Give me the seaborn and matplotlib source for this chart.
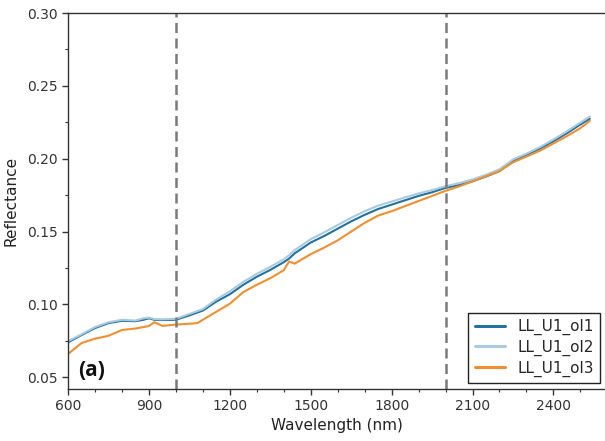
import numpy as np
import pandas as pd
import matplotlib
matplotlib.use("Agg")
import matplotlib.pyplot as plt
from matplotlib.ticker import MultipleLocator
import seaborn as sns

wavelength = [600, 650, 700, 750, 800, 850, 880, 900, 920, 950, 1000, 1050, 1080, 1100,
              1150, 1200, 1250, 1300, 1350, 1400, 1420, 1440, 1500, 1550, 1600, 1650,
              1700, 1750, 1800, 1850, 1900, 1950, 2000, 2050, 2100, 2150, 2200, 2250,
              2300, 2350, 2400, 2450, 2500, 2535]

ol1 = [0.0740, 0.0790, 0.0838, 0.0872, 0.0888, 0.0885, 0.0895, 0.0905, 0.0895, 0.0893,
       0.0895, 0.0925, 0.0945, 0.0958, 0.1020, 0.1070, 0.1135, 0.1190, 0.1237, 0.1290,
       0.1315, 0.1350, 0.1425, 0.1470, 0.1520, 0.1570, 0.1615, 0.1655, 0.1685, 0.1715,
       0.1745, 0.1770, 0.1800, 0.1820, 0.1845, 0.1878, 0.1915, 0.1985, 0.2025, 0.2070,
       0.2120, 0.2175, 0.2235, 0.2275]

ol2 = [0.0748, 0.0795, 0.0845, 0.0878, 0.0895, 0.0890, 0.0905, 0.0910, 0.0900, 0.0898,
       0.0902, 0.0935, 0.0955, 0.0968, 0.1035, 0.1090, 0.1155, 0.1210, 0.1258, 0.1310,
       0.1338, 0.1372, 0.1448, 0.1495, 0.1545, 0.1595, 0.1640, 0.1678, 0.1706, 0.1735,
       0.1762, 0.1785, 0.1812, 0.1832, 0.1858, 0.1890, 0.1928, 0.1995, 0.2035, 0.2080,
       0.2132, 0.2188, 0.2248, 0.2290]

ol3 = [0.0660, 0.0735, 0.0765, 0.0785, 0.0825, 0.0835, 0.0845, 0.0852, 0.0878, 0.0853,
       0.0862, 0.0868, 0.0872, 0.0895, 0.0950, 0.1005, 0.1085, 0.1135, 0.1180, 0.1235,
       0.1295, 0.1280, 0.1345, 0.1390, 0.1440, 0.1500, 0.1560, 0.1610, 0.1640, 0.1675,
       0.1710, 0.1745, 0.1780, 0.1810, 0.1845, 0.1880, 0.1915, 0.1975, 0.2015, 0.2055,
       0.2105, 0.2155, 0.2210, 0.2260]

series_names = ["LL_U1_ol1", "LL_U1_ol2", "LL_U1_ol3"]
colors = ["#23719f", "#a9cbe0", "#ef8f30"]
vlines = [1000, 2000]
xticks = [600, 900, 1200, 1500, 1800, 2100, 2400]
yticks = [0.05, 0.10, 0.15, 0.20, 0.25, 0.30]

df = pd.DataFrame({
    "Wavelength": wavelength * 3,
    "Reflectance": ol1 + ol2 + ol3,
    "sample": sum([[n] * len(wavelength) for n in series_names], []),
})

sns.set_theme(style="ticks")
plt.rcParams["font.family"] = ["DejaVu Sans"]

fig = plt.figure(figsize=(6.05, 4.41), dpi=100)
ax = fig.add_axes([68 / 605, 52 / 441, 538 / 605, 376 / 441])

sns.lineplot(data=df, x="Wavelength", y="Reflectance", hue="sample",
             palette=dict(zip(series_names, colors)), linewidth=1.5, ax=ax)

for v in vlines:
    ax.axvline(v, color="#7a7a7a", linestyle=(0, (4, 2.2)), linewidth=1.8)

ax.set_xlim(600, 2595)
ax.set_ylim(0.042, 0.30)
ax.set_xticks(xticks)
ax.set_yticks(yticks)
ax.set_yticklabels([f"{t:.2f}" for t in yticks])
ax.xaxis.set_minor_locator(MultipleLocator(100))
ax.yaxis.set_minor_locator(MultipleLocator(0.025))
ax.tick_params(axis="both", which="major", labelsize=10, length=4, width=1, colors="#333333")
ax.tick_params(axis="both", which="minor", length=2.5, width=0.8, colors="#333333")
ax.set_xlabel("Wavelength (nm)", fontsize=11, color="#222222", labelpad=3)
ax.set_ylabel("Reflectance", fontsize=11, color="#222222", labelpad=6)
for s in ax.spines.values():
    s.set_color("#333333")
    s.set_linewidth(1.0)

leg = ax.legend(loc="lower right", fontsize=11, frameon=True, fancybox=False,
                edgecolor="#222222", framealpha=1, handlelength=2.0,
                borderaxespad=0.4, labelspacing=0.3)
leg.get_frame().set_linewidth(1.0)
for line in leg.get_lines():
    line.set_linewidth(2.2)

ax.text(0.018, 0.05, "(a)", transform=ax.transAxes, fontsize=15, fontweight="bold",
        family="Open Sans", va="center", ha="left", color="#111111")

fig.savefig("out.png", dpi=100)
